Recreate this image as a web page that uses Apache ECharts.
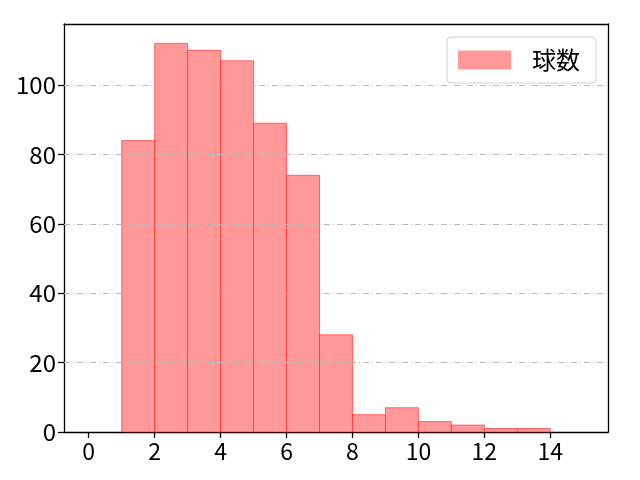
<!DOCTYPE html>
<html><head><meta charset="utf-8">
<script src="https://cdn.jsdelivr.net/npm/echarts@6/dist/echarts.min.js"></script>
<style>html,body{margin:0;padding:0;background:#fff}#c{width:640px;height:480px}</style>
</head><body><div id="c"></div>
<script>
var binStart = [1,2,3,4,5,6,7,8,9,10,11,12,13];
var binEnd   = [2,3,4,5,6,7,8,9,10,11,12,13,14];
var counts   = [84,112,110,107,89,74,28,5,7,3,2,1,1];
var xTicks = [0,2,4,6,8,10,12,14];
var yTicks = [0,20,40,60,80,100];
var seriesName = '球数';

var FONT = 'Noto Sans CJK JP';
var data = binStart.map(function(s,i){return [s, binEnd[i], counts[i]];});
var chart = echarts.init(document.getElementById('c'));
chart.setOption({
  animation:false,
  grid:{left:64,right:32,top:24,bottom:48},
  legend:{
    show:true, right:44, top:37, orient:'vertical',
    data:[{name:seriesName, icon:'rect'}],
    itemWidth:53, itemHeight:19, itemGap:10,
    padding:[11,16,11,11],
    borderColor:'#d0d0d0', borderWidth:1, borderRadius:4,
    textStyle:{fontFamily:FONT, fontSize:24, color:'#000', padding:[0,0,0,16]}
  },
  xAxis:[{
    type:'value', min:-0.75, max:15.75, interval:2,
    axisLine:{show:true,onZero:false,lineStyle:{color:'#000',width:1.3}},
    axisTick:{show:true,length:6,lineStyle:{color:'#000',width:1.3},customValues:xTicks},
    axisLabel:{fontFamily:FONT,fontSize:23,color:'#000',margin:8,customValues:xTicks},
    splitLine:{show:false}
  },{
    type:'value', position:'top', min:-0.75, max:15.75,
    axisLine:{show:true,onZero:false,lineStyle:{color:'#000',width:1.3}},
    axisTick:{show:false}, axisLabel:{show:false}, splitLine:{show:false}
  }],
  yAxis:[{
    type:'value', min:0, max:117.6,
    axisLine:{show:true,onZero:false,lineStyle:{color:'#000',width:1.3}},
    axisTick:{show:true,length:6,lineStyle:{color:'#000',width:1.3},customValues:yTicks},
    axisLabel:{fontFamily:FONT,fontSize:24,color:'#000',margin:8,customValues:yTicks},
    splitLine:{show:false}
  },{
    type:'value', position:'right', min:0, max:117.6,
    axisLine:{show:true,onZero:false,lineStyle:{color:'#000',width:1.3}},
    axisTick:{show:false}, axisLabel:{show:false}, splitLine:{show:false}
  }],
  series:[{
    type:'custom', name:seriesName,
    itemStyle:{color:'rgba(255,153,153,1)'},
    renderItem:function(params, api){
      var p0 = api.coord([api.value(0), api.value(2)]);
      var p1 = api.coord([api.value(1), 0]);
      return {type:'rect', shape:{x:p0[0], y:p0[1], width:p1[0]-p0[0], height:p1[1]-p0[1]},
        style:{fill:'#ff9999', stroke:'rgba(255,0,0,0.5)', lineWidth:1}};
    },
    encode:{x:[0,1], y:2},
    data:data, z:2
  },{
    type:'line', name:'grid', silent:true, data:[], symbol:'none',
    markLine:{silent:true, symbol:'none', label:{show:false},
      lineStyle:{color:'#b8b8b8', width:1, type:[6,3,1,3]},
      data: yTicks.filter(function(v){return v>0;}).map(function(v){return {yAxis:v};})},
    z:1
  }]
});
</script></body></html>
